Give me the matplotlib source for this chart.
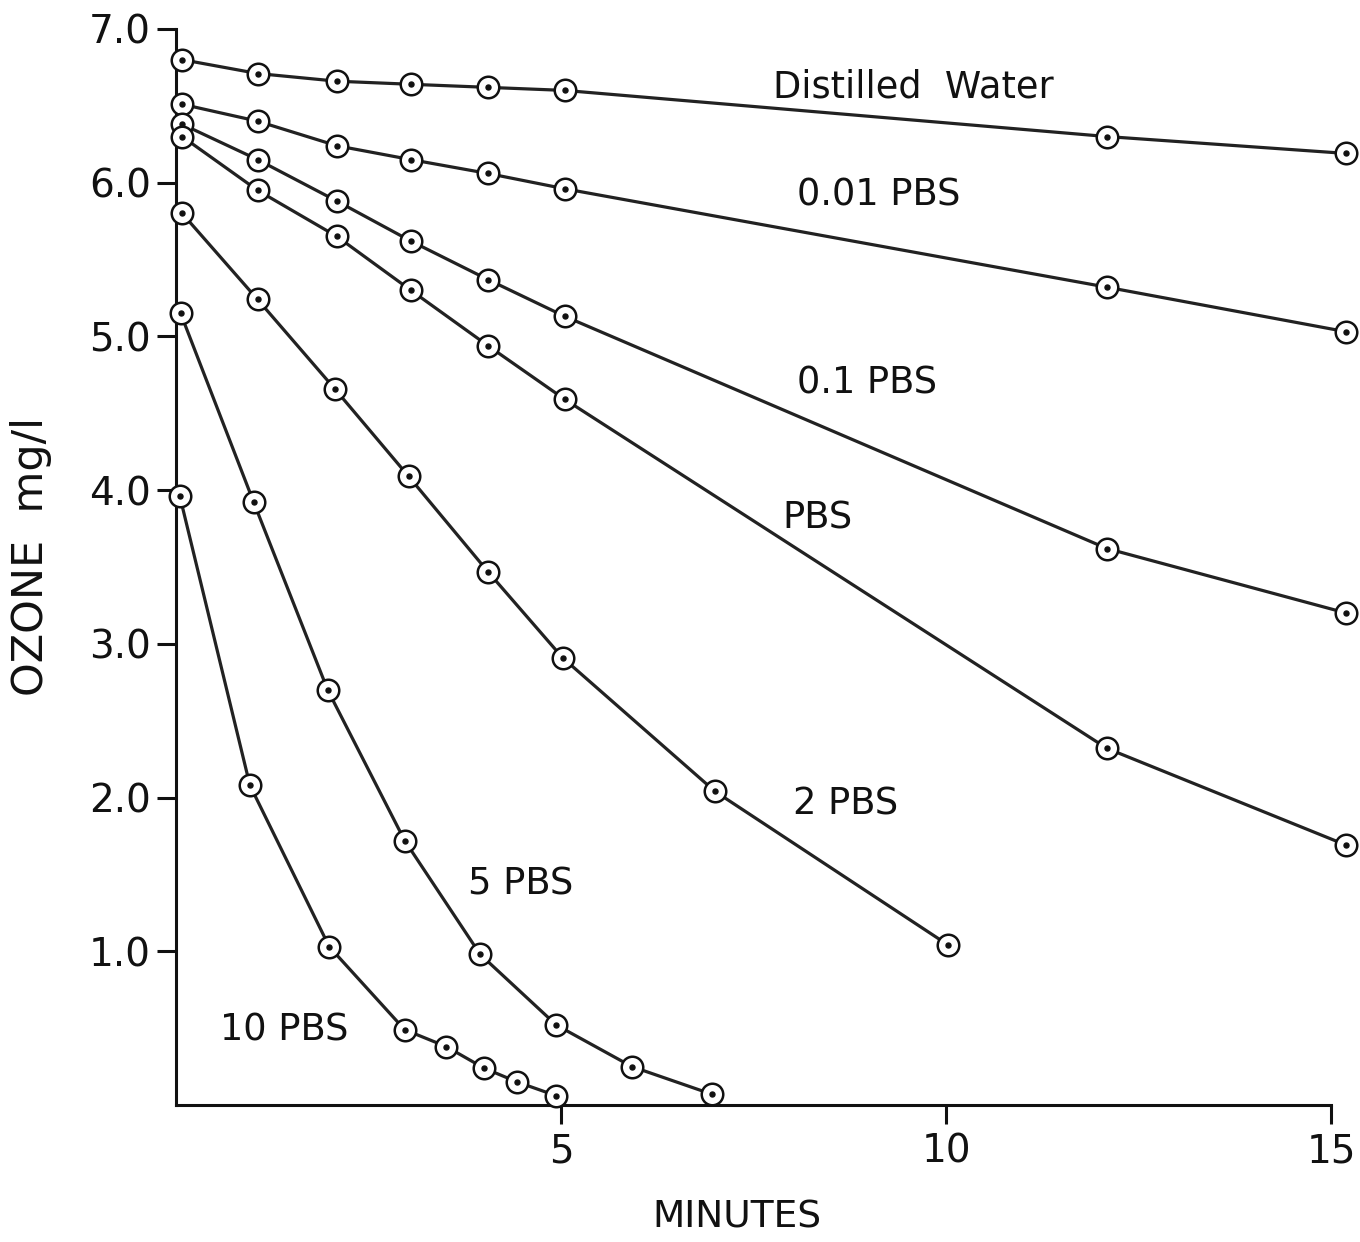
import matplotlib
matplotlib.use("Agg")
import matplotlib.pyplot as plt

# ---------------------------- data ----------------------------
series_names = ["Distilled  Water", "0.01 PBS", "0.1 PBS", "PBS", "2 PBS", "5 PBS", "10 PBS"]

x_long = [0.08, 1.06, 2.09, 3.05, 4.05, 5.05, 12.09, 15.2]
x_2pbs = [0.08, 1.06, 2.06, 3.02, 4.05, 5.02, 7.0, 10.03]
x_5pbs = [0.06, 1.01, 1.97, 2.97, 3.95, 4.94, 5.92, 6.96]
x_10pbs = [0.05, 0.96, 1.99, 2.97, 3.51, 4.0, 4.43, 4.94]

y_distilled = [6.80, 6.71, 6.66, 6.64, 6.62, 6.60, 6.30, 6.19]
y_001pbs = [6.51, 6.40, 6.24, 6.15, 6.06, 5.96, 5.32, 5.03]
y_01pbs = [6.38, 6.15, 5.88, 5.62, 5.37, 5.13, 3.62, 3.20]
y_pbs = [6.30, 5.95, 5.65, 5.30, 4.94, 4.59, 2.32, 1.69]
y_2pbs = [5.80, 5.24, 4.66, 4.09, 3.47, 2.91, 2.04, 1.04]
y_5pbs = [5.15, 3.92, 2.70, 1.72, 0.98, 0.52, 0.25, 0.07]
y_10pbs = [3.96, 2.08, 1.03, 0.49, 0.38, 0.24, 0.15, 0.06]

xs = [x_long, x_long, x_long, x_long, x_2pbs, x_5pbs, x_10pbs]
ys = [y_distilled, y_001pbs, y_01pbs, y_pbs, y_2pbs, y_5pbs, y_10pbs]

# where each curve label sits (data coords, left edge / vertical centre)
label_pos = [(7.75, 6.62), (8.06, 5.92), (8.06, 4.70), (7.88, 3.82),
             (8.01, 1.96), (3.79, 1.44), (0.57, 0.49)]

x_ticks = [5, 10, 15]
y_ticks = [1.0, 2.0, 3.0, 4.0, 5.0, 6.0, 7.0]

# ---------------------------------- figure ----------------------------------
plt.rcParams['font.family'] = ['DejaVu Sans']
fig = plt.figure(figsize=(13.6, 12.42), dpi=100)
ax = fig.add_axes([0.1294, 0.1103, 0.8493, 0.8664])

ink = "#111111"
for x, y in zip(xs, ys):
    ax.plot(x, y, color="#222222", lw=2.3, zorder=2, clip_on=False)
    # open circle with a dot in the middle
    ax.plot(x, y, 'o', ms=15.5, mfc='white', mec=ink, mew=1.8, zorder=3, clip_on=False)
    ax.plot(x, y, 'o', ms=3.6, mfc=ink, mec=ink, zorder=4, clip_on=False)

for name, (lx, ly) in zip(series_names, label_pos):
    ax.text(lx, ly, name, fontsize=26.5, color=ink, ha='left', va='center')

ax.set_xlim(0, 15)
ax.set_ylim(0, 7.0)
ax.set_xticks(x_ticks)
ax.set_xticklabels([str(t) for t in x_ticks])
ax.set_yticks(y_ticks)
ax.set_yticklabels([f"{t:.1f}" for t in y_ticks])

for side in ("top", "right"):
    ax.spines[side].set_visible(False)
for side in ("left", "bottom"):
    ax.spines[side].set_linewidth(2.2)
    ax.spines[side].set_color(ink)

ax.tick_params(axis='both', direction='out', length=14, width=2.2, color=ink,
               labelsize=28, labelcolor=ink)
ax.tick_params(axis='y', pad=4)
ax.tick_params(axis='x', pad=6)

# axis titles placed directly in figure coords
fig.text(737 / 1360, 1 - 1218 / 1242, "MINUTES", fontsize=27, color=ink,
         ha='center', va='center')
fig.text(31 / 1360, 1 - 557 / 1242, "OZONE  mg/l", fontsize=31, color=ink,
         ha='center', va='center', rotation=90)

fig.savefig("out.png", dpi=100, facecolor="white")
